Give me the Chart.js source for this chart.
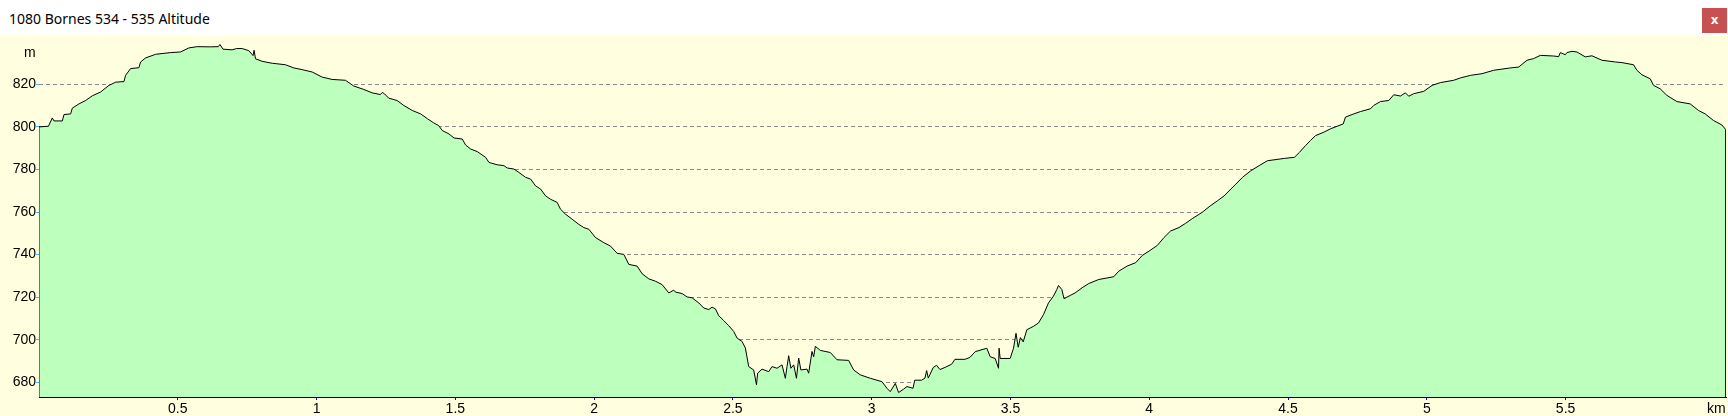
<!DOCTYPE html>
<html>
<head>
<meta charset="utf-8">
<script src="https://cdn.jsdelivr.net/npm/chart.js@4"></script>
<style>
  html, body { margin: 0; padding: 0; }
  body { width: 1728px; height: 416px; position: relative; background: #ffffdf; overflow: hidden; }
  #titlebar { position: absolute; left: 0; top: 0; width: 1728px; height: 36px; background: #fff; }
  #title { position: absolute; left: 9px; top: 9px; font: 14px "Noto Sans", sans-serif; color: #000; }
  #close { position: absolute; left: 1702px; top: 8px; width: 25px; height: 25px; background: #c75050;
           color: #fff; font: bold 12px "DejaVu Sans", sans-serif; text-align: center; line-height: 24px; }
  #wrap { position: absolute; left: 0; top: 36px; width: 1728px; height: 380px; }
  .unit { position: absolute; font: 14px "Liberation Sans", Arial, sans-serif; color: #000; }
</style>
</head>
<body>
<div id="titlebar">
  <div id="title">1080 Bornes 534 - 535 Altitude</div>
  <div id="close">x</div>
</div>
<div id="wrap"><canvas id="profil" width="1728" height="380"></canvas></div>
<div class="unit" style="left:24px; top:44px;">m</div>
<div class="unit" style="left:1707px; top:400px;">km</div>
<script>
// Distanz (km) und Höhe (m) des Profils
const distKm = [
  0, 0.034, 0.048, 0.054, 0.084, 0.09, 0.114, 0.12, 0.144, 0.168, 0.192, 0.222, 0.252, 0.276, 0.306, 0.312,
  0.33, 0.36, 0.366, 0.384, 0.42, 0.474, 0.51, 0.54, 0.57, 0.618, 0.646, 0.652, 0.663, 0.696, 0.712, 0.732,
  0.756, 0.771, 0.775, 0.78, 0.804, 0.84, 0.888, 0.918, 0.948, 0.984, 1.02, 1.056, 1.104, 1.134, 1.17, 1.2,
  1.23, 1.237, 1.245, 1.26, 1.29, 1.315, 1.345, 1.375, 1.4, 1.422, 1.44, 1.453, 1.477, 1.495, 1.525, 1.537,
  1.555, 1.579, 1.609, 1.621, 1.651, 1.675, 1.687, 1.711, 1.729, 1.753, 1.771, 1.789, 1.807, 1.825, 1.843,
  1.867, 1.879, 1.897, 1.921, 1.945, 1.963, 1.981, 2.005, 2.035, 2.059, 2.083, 2.107, 2.125, 2.155, 2.173,
  2.197, 2.221, 2.245, 2.269, 2.287, 2.293, 2.317, 2.335, 2.353, 2.377, 2.395, 2.413, 2.425, 2.437, 2.449,
  2.467, 2.485, 2.503, 2.515, 2.533, 2.545, 2.557, 2.575, 2.585, 2.589, 2.605, 2.629, 2.641, 2.659, 2.677,
  2.689, 2.695, 2.701, 2.709, 2.719, 2.729, 2.737, 2.745, 2.767, 2.773, 2.785, 2.791, 2.797, 2.815, 2.851,
  2.875, 2.917, 2.935, 2.959, 2.995, 3.037, 3.055, 3.067, 3.085, 3.097, 3.115, 3.127, 3.149, 3.155, 3.18,
  3.192, 3.198, 3.204, 3.222, 3.234, 3.246, 3.264, 3.288, 3.3, 3.336, 3.354, 3.373, 3.415, 3.427, 3.445,
  3.457, 3.459, 3.463, 3.499, 3.511, 3.52, 3.528, 3.536, 3.546, 3.559, 3.583, 3.601, 3.619, 3.637, 3.655,
  3.667, 3.673, 3.685, 3.693, 3.715, 3.733, 3.758, 3.782, 3.818, 3.872, 3.89, 3.92, 3.951, 3.975, 4.0,
  4.029, 4.053, 4.077, 4.107, 4.131, 4.155, 4.19, 4.22, 4.246, 4.27, 4.294, 4.312, 4.336, 4.366, 4.396,
  4.426, 4.487, 4.523, 4.541, 4.563, 4.581, 4.599, 4.629, 4.653, 4.677, 4.699, 4.707, 4.737, 4.761, 4.797,
  4.809, 4.833, 4.863, 4.881, 4.905, 4.923, 4.935, 4.953, 4.989, 5.019, 5.049, 5.097, 5.121, 5.157, 5.199,
  5.241, 5.301, 5.331, 5.361, 5.385, 5.409, 5.457, 5.475, 5.481, 5.499, 5.505, 5.523, 5.541, 5.571, 5.595,
  5.631, 5.679, 5.703, 5.745, 5.757, 5.775, 5.805, 5.817, 5.841, 5.865, 5.901, 5.949, 5.979, 6.003, 6.033,
  6.063, 6.078
];
const altM = [
  800, 800.3, 804.2, 802.8, 802.8, 805.8, 806.1, 808.8, 810.8, 812.4, 814.6, 816.4, 819.5, 821, 821.3, 824.2,
  827.4, 827.8, 830.5, 832.4, 834.1, 834.9, 835.2, 837.1, 837.7, 837.6, 837.7, 838.7, 836.5, 836.2, 836.8, 836.8,
  835.8, 833.5, 836, 832, 830.8, 829.9, 829.2, 827.7, 826.9, 825.8, 823.4, 822.3, 821.9, 819.2, 817.6, 816,
  815.2, 816.2, 815.5, 813.5, 812.4, 810, 807.7, 806.1, 803.8, 801.9, 800.6, 798.3, 796.7, 794.8, 794.3, 791.5,
  789.6, 788.4, 785.7, 783.3, 782.2, 781.8, 780.7, 780.2, 778.6, 776.3, 775.5, 772.3, 770.8, 767.6, 766,
  764.5, 761.3, 759, 756.6, 754.2, 752.7, 751.9, 748, 745.6, 744, 740.6, 740.1, 735.4, 734.6, 731,
  728.6, 727.5, 725.9, 722, 723.3, 722.4, 721.7, 720.1, 719.7, 717.3, 714.9, 714.2, 715.3, 714.5, 711.3,
  709, 706.6, 703.9, 700.8, 699.2, 696.1, 687.4, 685.8, 678.8, 684.3, 686.2, 685, 687.4, 686.6, 688.2,
  681.9, 687.4, 692.5, 686.6, 688.2, 681.9, 691.4, 685.8, 686.2, 684.3, 694.5, 692, 696.9, 695, 694,
  690.6, 690.3, 685.8, 683.5, 681.9, 680.3, 677.2, 675.6, 679.5, 675.2, 676.8, 678, 677.2, 681, 681,
  682, 685.5, 682, 687, 688, 686, 687, 688.5, 690.8, 690.8, 691.7, 694.4, 696, 692, 691.2,
  686.6, 696, 691.2, 691.2, 696, 703, 696.5, 701, 699, 704.7, 706.3, 707.9, 711.8, 717.3, 720.5,
  723.6, 725.5, 723.6, 719.3, 720.8, 722, 724.4, 726.4, 728.3, 729.6, 732.2, 734.6, 736.2, 739.6, 741.7,
  744.3, 748, 751.1, 752.7, 754.7, 756.9, 759.8, 762.9, 765.3, 767.6, 770.8, 773.1, 776.3, 779.4, 781.8,
  784.1, 785.2, 785.7, 788, 791.2, 793.6, 795.9, 797.5, 799.1, 800.3, 801.4, 804.6, 806.1, 807.2, 808.5,
  810.1, 811.9, 812.4, 815.1, 814.5, 816, 814.4, 815.6, 816.7, 819.5, 820.8, 821.9, 823, 824.2, 825,
  826.6, 827.7, 828.1, 831.3, 832.1, 833.6, 833.3, 833, 834.9, 833.9, 834.9, 835.5, 835.2, 832.9, 833.4,
  831.3, 830.5, 830.2, 829.2, 826.6, 824.5, 822.6, 819.5, 817.9, 814.8, 811.9, 810.8, 807.7, 806.1, 803,
  800.9, 798.6
];

// Achsen
const X_MIN = 0;
const X_MAX = 6.078;
const Y_MIN = 673.1;
const Y_MAX = 842.7;
const xTicks = [0.5, 1, 1.5, 2, 2.5, 3, 3.5, 4, 4.5, 5, 5.5];
const yTicks = [680, 700, 720, 740, 760, 780, 800, 820];

// Punkte für Chart.js, mit Fußpunkten links und rechts, damit die Fläche geschlossen ist
let punkte = distKm.map((d, i) => ({ x: d, y: altM[i] }));
punkte.unshift({ x: distKm[0], y: Y_MIN });
punkte.push({ x: distKm[distKm.length - 1], y: Y_MIN });

const ctx = document.getElementById('profil').getContext('2d');
new Chart(ctx, {
    type: 'line',
    data: {
        datasets: [{
            data: punkte,
            borderColor: '#000',
            borderWidth: 1,
            backgroundColor: '#bdffbd',
            fill: 'start',
            pointRadius: 0,
            tension: 0
        }]
    },
    options: {
        responsive: false,
        animation: false,
        devicePixelRatio: 1,
        layout: { padding: { left: 0, right: 2, top: 0, bottom: 0 } },
        plugins: { legend: { display: false }, tooltip: { enabled: false } },
        scales: {
            x: {
                type: 'linear',
                min: X_MIN,
                max: X_MAX,
                afterBuildTicks: (scale) => { scale.ticks = xTicks.map(v => ({ value: v })); },
                afterFit: (scale) => {
                    scale.height = 19;
                    scale.paddingLeft = 0;
                    scale.paddingRight = 0;
                },
                grid: { drawOnChartArea: false, tickLength: 3, tickColor: '#0000ff', tickWidth: 1 },
                border: { display: true, color: '#000', width: 1 },
                ticks: {
                    color: '#000',
                    padding: 1,
                    maxRotation: 0,
                    autoSkip: false,
                    callback: (v) => String(v),
                    font: { family: '"Liberation Sans", Arial, sans-serif', size: 14 }
                }
            },
            y: {
                type: 'linear',
                min: Y_MIN,
                max: Y_MAX,
                afterBuildTicks: (scale) => { scale.ticks = yTicks.map(v => ({ value: v })); },
                afterFit: (scale) => {
                    scale.width = 39;
                    scale.paddingTop = 0;
                    scale.paddingBottom = 0;
                },
                grid: {
                    color: '#8a8a8a',
                    tickLength: 3,
                    tickColor: '#5ab4e6',
                    tickBorderDash: [],
                    lineWidth: 1
                },
                border: { display: false, dash: [4, 3] },
                ticks: {
                    color: '#000',
                    padding: 0,
                    autoSkip: false,
                    font: { family: '"Liberation Sans", Arial, sans-serif', size: 14 }
                }
            }
        }
    }
});
</script>
</body>
</html>
